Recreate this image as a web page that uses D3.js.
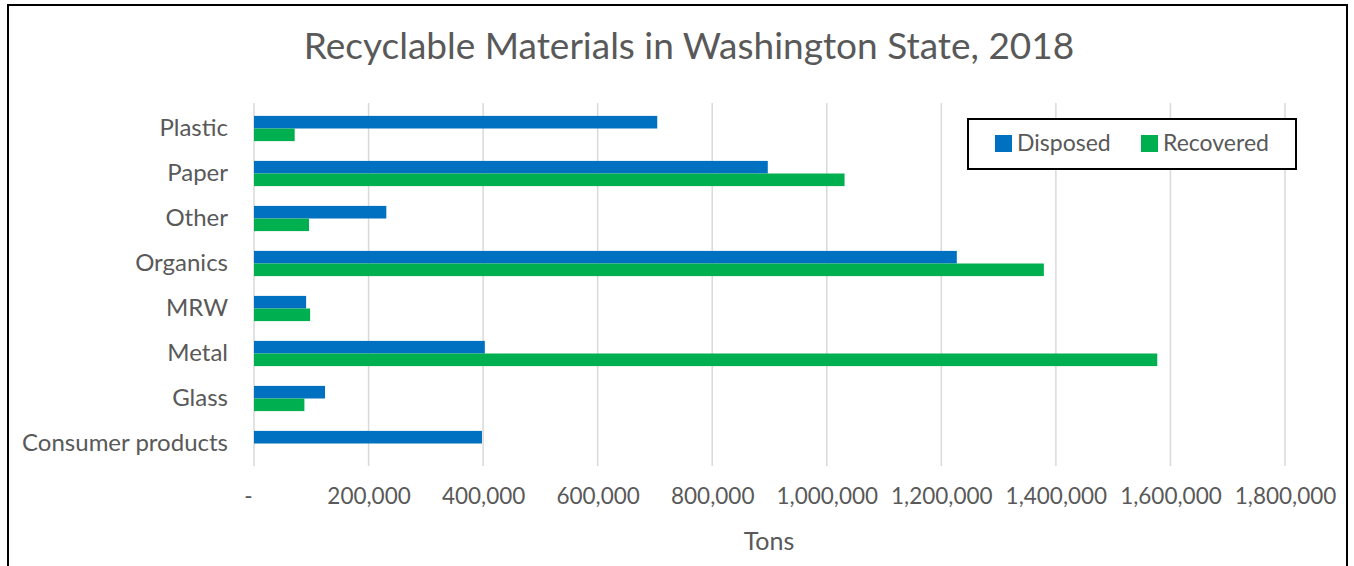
<!DOCTYPE html>
<html>
<head>
<meta charset="utf-8">
<script src="https://cdn.jsdelivr.net/npm/d3@7"></script>
<style>
  body { margin: 0; background: #fff; }
  svg text { font-family: Lato, "Noto Sans", sans-serif; fill: #595959; }
</style>
</head>
<body>
<svg width="1354" height="566"></svg>
<script>
// categories top to bottom, values in tons
const categories = ["Plastic", "Paper", "Other", "Organics", "MRW", "Metal", "Glass", "Consumer products"];
const disposed = [704000, 897000, 231000, 1227000, 91000, 403000, 124000, 398000];
const recovered = [71000, 1031000, 96000, 1379000, 98000, 1577000, 88000, 0];
const seriesNames = ["Disposed", "Recovered"];
const tickValues = [0, 200000, 400000, 600000, 800000, 1000000, 1200000, 1400000, 1600000, 1800000];

var svg = d3.select("svg");
var colors = ["#0070c0", "#00b050"];

var rows = categories.map((c, i) => ({ name: c, values: [disposed[i], recovered[i]] }));

var x = d3.scaleLinear().domain([0, 1800000]).range([254, 1285]);
var y = d3.scaleBand().domain(categories).range([106, 466]).paddingInner(0.44).paddingOuter(0.22);
var ySub = d3.scaleBand().domain([0, 1]).range([0, y.bandwidth()]);

// outer frame
svg.append("rect")
  .attr("x", 8).attr("y", 5)
  .attr("width", 1339).attr("height", 580)
  .attr("fill", "none").attr("stroke", "#000").attr("stroke-width", 2);

// title
svg.append("text")
  .attr("x", 689).attr("y", 59)
  .attr("text-anchor", "middle")
  .attr("font-size", "37px")
  .text("Recyclable Materials in Washington State, 2018");

// gridlines
svg.append("g")
  .selectAll("line")
  .data(tickValues)
  .enter()
  .append("line")
  .attr("x1", (d) => x(d)).attr("x2", (d) => x(d))
  .attr("y1", 103).attr("y2", 466)
  .attr("stroke", "#d9d9d9").attr("stroke-width", 1.5);

// x axis labels
var xAxis = d3.axisBottom(x)
  .tickValues(tickValues)
  .tickSize(0)
  .tickFormat((d) => (d === 0 ? "-" : d3.format(",")(d)));

var gx = svg.append("g").attr("transform", "translate(0,485)").call(xAxis);
gx.select(".domain").remove();
gx.selectAll("text")
  .attr("font-size", "22.5px")
  .attr("font-family", "Lato, sans-serif")
  .attr("fill", "#595959")
  .attr("dx", (d) => (d === 0 ? -6 : 0));

// axis title
svg.append("text")
  .attr("x", 769).attr("y", 550)
  .attr("text-anchor", "middle")
  .attr("font-size", "25px")
  .text("Tons");

// y axis labels
var yAxis = d3.axisLeft(y).tickSize(0).tickPadding(0);
var gy = svg.append("g").attr("transform", "translate(228,0)").call(yAxis);
gy.select(".domain").remove();
gy.selectAll("text")
  .attr("font-size", "24px")
  .attr("font-family", "Lato, sans-serif")
  .attr("fill", "#595959");

// bars
var groups = svg.append("g")
  .selectAll("g")
  .data(rows)
  .enter()
  .append("g")
  .attr("transform", (d) => "translate(0," + y(d.name) + ")");

groups.selectAll("rect")
  .data((d) => d.values.map((v, k) => ({ k: k, v: v })))
  .enter()
  .append("rect")
  .attr("x", x(0))
  .attr("y", (d) => ySub(d.k))
  .attr("width", (d) => x(d.v) - x(0))
  .attr("height", ySub.bandwidth())
  .attr("fill", (d) => colors[d.k]);

// legend
var legend = svg.append("g").attr("transform", "translate(968,119)");
legend.append("rect")
  .attr("width", 328).attr("height", 50)
  .attr("fill", "#fff").attr("stroke", "#000").attr("stroke-width", 2);

var legendX = [27, 173];
var items = legend.selectAll(".item")
  .data(seriesNames)
  .enter()
  .append("g")
  .attr("class", "item")
  .attr("transform", (d, i) => "translate(" + legendX[i] + ",0)");

items.append("rect")
  .attr("y", 16).attr("width", 17).attr("height", 17)
  .attr("fill", (d, i) => colors[i]);

items.append("text")
  .attr("x", 22).attr("y", 32)
  .attr("font-size", "23px")
  .text((d) => d);
</script>
</body>
</html>
